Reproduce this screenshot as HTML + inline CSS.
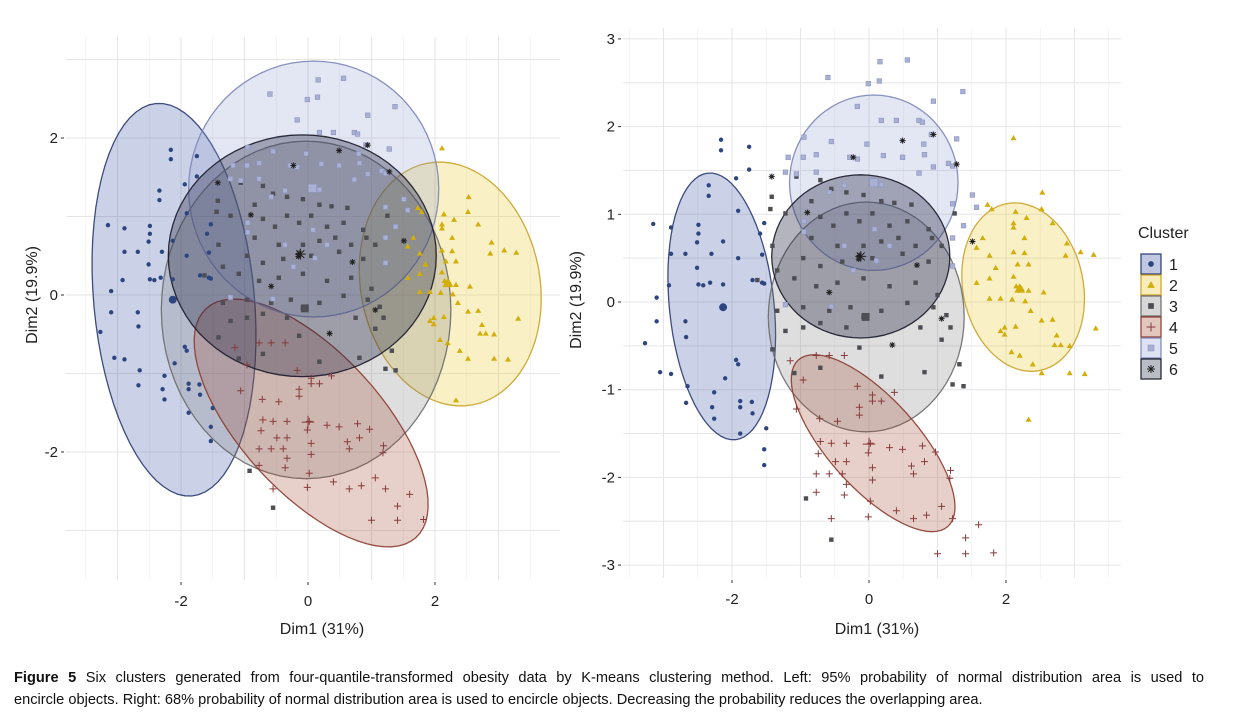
<!DOCTYPE html>
<html><head><meta charset="utf-8"><style>
body{margin:0;background:#fff;width:1243px;height:726px;overflow:hidden;font-family:"Liberation Sans",sans-serif}
svg{position:absolute;left:0;top:0}
.cap{position:absolute;left:14px;top:667px;width:1190px;font-size:14.6px;line-height:22px;color:#111}
.l1{text-align:justify;text-align-last:justify;white-space:nowrap;overflow:visible}
</style></head><body>
<svg id="chart" width="1243" height="660" viewBox="0 0 1243 660"></svg>
<div class="cap"><div class="l1" style="white-space:normal"><b>Figure 5</b> Six clusters generated from four-quantile-transformed obesity data by K-means clustering method. Left: 95% probability of normal distribution area is used to</div><div>encircle objects. Right: 68% probability of normal distribution area is used to encircle objects. Decreasing the probability reduces the overlapping area.</div></div>
<script>
const clusters=["1","2","3","4","5","6"];
const c1=[[-2.16,1.85],[-2.16,1.73],[-1.75,1.77],[-1.75,1.51],[-1.94,1.41],[-2.34,1.33],[-2.34,1.21],[-3.15,0.89],[-2.89,0.85],[-2.49,0.88],[-2.49,0.78],[-2.51,0.68],[-2.13,0.69],[-2.30,0.55],[-1.91,1.04],[-1.91,0.50],[-1.53,0.90],[-1.59,0.78],[-2.89,0.55],[-2.68,0.55],[-2.51,0.39],[-2.32,0.22],[-2.49,0.20],[-2.13,0.20],[-2.42,0.19],[-1.70,0.25],[-1.56,0.22],[-2.92,0.19],[-3.10,0.05],[-2.13,-0.06],[-3.10,-0.22],[-2.68,-0.22],[-2.67,-0.40],[-3.27,-0.47],[-3.05,-0.80],[-2.89,-0.82],[-1.94,-0.66],[-1.91,-0.71],[-2.10,-0.87],[-2.65,-0.96],[-2.26,-1.03],[-1.88,-1.13],[-1.88,-1.20],[-1.71,-1.14],[-2.67,-1.15],[-2.29,-1.20],[-2.26,-1.33],[-1.88,-1.50],[-1.50,-1.44],[-1.53,-1.68],[-1.53,-1.86],[-1.70,-1.27],[-1.56,0.54],[-1.53,0.21]];
const c2=[[2.11,1.87],[2.53,1.25],[2.52,1.06],[2.68,0.90],[2.14,1.03],[2.30,0.96],[1.73,1.11],[1.79,1.06],[2.11,0.90],[2.11,0.85],[2.27,0.73],[2.89,0.67],[3.09,0.57],[3.28,0.54],[2.87,0.53],[2.11,0.57],[2.27,0.56],[2.17,0.43],[2.33,0.43],[1.57,0.62],[1.76,0.53],[1.66,0.73],[1.85,0.39],[2.11,0.29],[1.76,0.27],[2.15,0.18],[2.20,0.18],[2.23,0.15],[2.33,0.13],[2.55,0.11],[2.09,0.03],[2.28,0.01],[1.92,0.04],[1.76,0.04],[1.57,0.22],[2.36,-0.10],[2.68,-0.20],[2.52,-0.21],[3.31,-0.30],[1.98,-0.29],[2.14,-0.28],[2.71,-0.49],[2.80,-0.49],[2.93,-0.50],[1.92,-0.33],[1.98,-0.37],[2.08,-0.57],[2.20,-0.61],[2.39,-0.71],[2.52,-0.81],[2.93,-0.81],[3.15,-0.82],[2.33,-1.34],[2.74,-0.38]];
const c3=[[-1.42,1.20],[-1.44,1.06],[-1.22,1.01],[-1.06,1.43],[-0.71,1.39],[-0.55,1.29],[-0.84,1.15],[-0.33,1.25],[-0.08,1.22],[0.18,1.15],[0.37,1.13],[0.62,1.11],[0.87,0.83],[1.06,0.64],[0.92,0.73],[-0.71,0.97],[-0.52,0.87],[-0.33,1.01],[-0.14,0.92],[0.05,1.01],[0.30,0.87],[0.56,0.92],[0.68,0.64],[-0.84,0.73],[-0.46,0.64],[-0.08,0.64],[0.18,0.69],[0.43,0.73],[-0.96,0.50],[-0.71,0.41],[-0.39,0.46],[0.05,0.50],[0.49,0.55],[0.87,0.46],[-1.09,0.27],[-0.77,0.18],[-0.46,0.22],[-0.08,0.27],[0.30,0.18],[0.68,0.22],[1.00,0.08],[-0.96,-0.06],[-0.58,-0.10],[-0.27,-0.06],[-0.08,-0.17],[0.18,-0.10],[0.56,-0.01],[0.94,-0.06],[1.13,-0.15],[-1.34,-0.10],[-1.22,-0.33],[-0.96,-0.29],[-0.71,-0.24],[-0.33,-0.29],[-0.14,-0.52],[0.75,-0.29],[1.19,-0.29],[1.32,-0.71],[1.38,-0.96],[1.22,-0.94],[0.81,-0.80],[0.18,-0.85],[-0.71,-0.75],[-1.09,-0.81],[-1.41,-0.54],[-0.55,-2.71],[-0.92,-2.24],[-1.63,0.25],[-1.34,0.36],[1.25,1.01],[-1.41,0.64],[1.06,-0.43]];
const c4=[[-1.15,-0.67],[-0.77,-0.61],[-0.58,-0.61],[-0.36,-0.61],[-0.96,-0.89],[-1.06,-1.22],[-0.72,-1.33],[-0.46,-1.36],[-0.17,-0.96],[0.05,-1.06],[0.05,-1.13],[-0.14,-1.20],[0.18,-1.13],[0.37,-1.03],[-0.14,-1.29],[-0.71,-1.59],[-0.55,-1.61],[-0.33,-1.61],[0.02,-1.61],[-0.74,-1.73],[-0.49,-1.82],[-0.33,-1.82],[0.05,-1.89],[0.30,-1.66],[0.49,-1.68],[0.62,-1.87],[0.78,-1.64],[0.81,-1.82],[0.97,-1.71],[0.65,-1.96],[-0.77,-1.96],[-0.58,-1.96],[-0.39,-1.96],[-0.33,-2.08],[0.05,-2.03],[-0.77,-2.17],[-0.36,-2.20],[0.02,-2.27],[1.06,-2.33],[0.40,-2.38],[0.65,-2.47],[0.84,-2.43],[1.22,-2.47],[-0.55,-2.47],[-0.01,-2.45],[1.41,-2.69],[1.60,-2.54],[1.00,-2.87],[1.41,-2.87],[1.82,-2.86],[1.19,-1.92],[1.18,-2.01],[-0.01,-1.72]];
const c5=[[0.16,2.74],[0.56,2.76],[-0.60,2.56],[-0.01,2.49],[0.15,2.52],[1.37,2.40],[0.94,2.29],[-0.17,2.23],[0.18,2.07],[0.40,2.07],[0.73,2.07],[0.78,2.05],[0.91,1.91],[1.28,1.86],[-0.95,1.88],[-0.55,1.83],[-0.03,1.80],[0.80,1.80],[-1.18,1.65],[-0.96,1.65],[-0.77,1.68],[-0.28,1.65],[0.21,1.67],[0.49,1.65],[0.81,1.68],[1.16,1.58],[0.94,1.54],[-1.22,1.48],[-1.06,1.46],[-0.77,1.48],[0.73,1.47],[1.22,1.55],[-0.17,1.63],[1.51,1.22],[1.22,1.12],[1.57,1.08],[1.38,0.87],[1.22,0.73],[1.22,0.41],[-0.36,1.33],[0.18,1.34],[0.05,1.36],[-0.58,1.25],[0.08,0.83],[0.11,0.47],[-0.36,0.64],[0.30,0.64],[-0.95,0.92],[-0.95,0.80],[-0.55,-0.05],[-0.23,0.36],[-1.22,-0.03]];
const c6=[[0.49,1.84],[-1.42,1.43],[-0.23,1.65],[-0.90,1.02],[-0.14,0.53],[-0.15,0.49],[0.70,0.42],[0.34,-0.49],[1.06,-0.19],[1.51,0.69],[1.28,1.57],[0.94,1.91],[-0.58,0.11]];
const centroids=[[-2.13,-0.06],[2.2,0.15],[-0.05,-0.17],[0.0,-1.62],[0.07,1.36],[-0.12,0.52]];
// ellipse: centre x, centre y, axis-u (dx,dy), axis-v (dx,dy) in data units
const ellLeft=[[-2.11,-0.06,0.28,-2.5,1.26,0.09],[2.24,0.14,0.35,-1.54,1.39,0.2],[-0.03,-0.19,2.28,0,0,2.15],[0.05,-1.63,1.65,-1.46,0.82,0.6],[0.09,1.35,1.97,0,0,1.63],[-0.09,0.5,2.11,0,0,1.54]];
const ellRight=[[-2.15,-0.05,0.2,-1.52,0.76,0.06],[2.25,0.17,0.25,-0.95,0.86,0.14],[-0.04,-0.17,1.43,0,0,1.31],[0.06,-1.61,1.09,-0.95,0.49,0.34],[0.07,1.36,1.23,0,0,1.0],[-0.12,0.52,1.3,0,0,0.93]];
const xTicks=[-2,0,2];
const yTicksLeft=[-2,0,2];
const yTicksRight=[-3,-2,-1,0,1,2,3];

const fills=["#2e4a9e","#e7c21b","#7a7a7a","#a0442a","#8f9bd0","#1f2440"];
const strokes=["#2b3a72","#c9a227","#6b6b6b","#8c3b30","#7c86b8","#1a1a2a"];
const NS="http://www.w3.org/2000/svg";
const svg=document.getElementById('chart');
function mk(tag,attrs,parent){const e=document.createElementNS(NS,tag);for(const k in attrs)e.setAttribute(k,attrs[k]);(parent||svg).appendChild(e);return e;}

function panel(P){
  const g=mk('g',{});
  
  
  const X=v=>P.x0+v*P.xs, Y=v=>P.y0-v*P.ys;
  for(let v=-4;v<=4;v+=0.5){const px=X(v);if(px>=P.l&&px<=P.r){const ln=mk('line',{x1:px,x2:px,y1:P.t,y2:P.b,stroke:Number.isInteger(v)?'#e6e6e6':'#f2f2f2','stroke-width':Number.isInteger(v)?1.1:0.8},g);}}
  for(let v=-4;v<=4;v+=P.ystep){const py=Y(v);if(py>=P.t&&py<=P.b){const ln=mk('line',{y1:py,y2:py,x1:P.l,x2:P.r,stroke:'#e6e6e6','stroke-width':1},g);}}
  P.ell.forEach((e,i)=>{
    let d='';
    for(let k=0;k<=72;k++){const t=k/72*2*Math.PI;const vx=e[0]+e[2]*Math.cos(t)+e[4]*Math.sin(t);const vy=e[1]+e[3]*Math.cos(t)+e[5]*Math.sin(t);d+=(k?'L':'M')+X(vx).toFixed(1)+','+Y(vy).toFixed(1);}
    const p=mk('path',{d:d+'Z',fill:fills[i],'fill-opacity':i==5?0.34:0.25,stroke:strokes[i],'stroke-width':1.3,'stroke-opacity':0.9},g);
    
    
  });
  const sets=[c1,c2,c3,c4,c5,c6];
  sets.forEach((s,i)=>{
    s.forEach(pt=>{
      const el=marker(g,i,X(pt[0]),Y(pt[1]),1);
      
      
    });
  });
  centroids.forEach((pt,i)=>{
    const el=marker(g,i,X(pt[0]),Y(pt[1]),1.8);
    
    
  });
  xTicks.forEach(v=>{
    mk('line',{x1:X(v),x2:X(v),y1:P.b+2,y2:P.b+5,stroke:'#333'},g);
    const t=mk('text',{x:X(v),y:P.b+26,'text-anchor':'middle','font-size':15,fill:'#222'},g);t.textContent=v;
    
    
  });
  P.yt.forEach(v=>{
    mk('line',{x1:P.l-5,x2:P.l-2,y1:Y(v),y2:Y(v),stroke:'#333'},g);
    const t=mk('text',{x:P.l-8,y:Y(v)+5,'text-anchor':'end','font-size':15,fill:'#222'},g);t.textContent=v;
    
    
  });
  const xt=mk('text',{x:P.xlab,y:634,'text-anchor':'middle','font-size':16,fill:'#222'},g);xt.textContent='Dim1 (31%)';
  
  
  const yt=mk('text',{x:0,y:0,'text-anchor':'middle','font-size':16,fill:'#222',transform:`translate(${P.ylabx},${P.ylaby}) rotate(-90)`},g);yt.textContent='Dim2 (19.9%)';
  
  
}
function marker(g,i,x,y,s){
  if(i===0) return mk('circle',{cx:x,cy:y,r:2.2*s,fill:'#2e4680'},g);
  if(i===1) return mk('path',{d:`M${x},${y-3*s}L${x+3*s},${y+2.2*s}L${x-3*s},${y+2.2*s}Z`,fill:'#d1ae0a'},g);
  if(i===2) return mk('rect',{x:x-2.2*s,y:y-2.2*s,width:4.4*s,height:4.4*s,fill:'#4e4e55'},g);
  if(i===3) return mk('path',{d:`M${x-3.5*s},${y}H${x+3.5*s}M${x},${y-3.5*s}V${y+3.5*s}`,stroke:'#8a3b3b','stroke-width':1},g);
  if(i===4) return mk('rect',{x:x-2.3*s,y:y-2.3*s,width:4.6*s,height:4.6*s,fill:'#a9b0d4',stroke:'#8c94c0','stroke-width':0.6},g);
  return mk('path',{d:`M${x-3*s},${y}H${x+3*s}M${x},${y-3*s}V${y+3*s}M${x-2.2*s},${y-2.2*s}L${x+2.2*s},${y+2.2*s}M${x-2.2*s},${y+2.2*s}L${x+2.2*s},${y-2.2*s}`,stroke:'#222','stroke-width':1},g);
}
panel({name:'left-panel-95pct',x0:308,xs:63.5,y0:295,ys:78.5,l:66,r:560,t:37,b:580,ystep:1,ell:ellLeft,yt:yTicksLeft,xlab:322,ylabx:37,ylaby:295});
panel({name:'right-panel-68pct',x0:869,xs:68.5,y0:302,ys:87.7,l:623,r:1121,t:28,b:578,ystep:0.5,ell:ellRight,yt:yTicksRight,xlab:877,ylabx:581,ylaby:300});

const lg=mk('g',{});


const lt=mk('text',{x:1138,y:238,'font-size':16,fill:'#222'},lg);lt.textContent='Cluster';


clusters.forEach((c,i)=>{
  const y=254+i*21;
  const r=mk('rect',{x:1141,y:y,width:20,height:20,fill:fills[i],'fill-opacity':0.3,stroke:strokes[i],'stroke-width':1.2},lg);
  
  
  marker(lg,i,1151,y+10,1.3);
  const t=mk('text',{x:1169,y:y+16,'font-size':16,fill:'#222'},lg);t.textContent=c;
  
  
});
</script>
</body></html>
